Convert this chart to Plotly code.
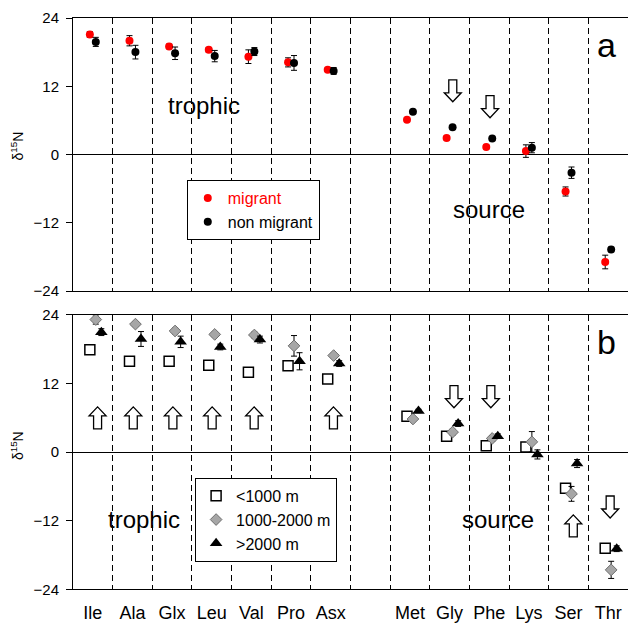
import plotly.graph_objects as go

FONT = "Liberation Sans, Arial, sans-serif"

# ---------------- data ----------------
categories = ["Ile", "Ala", "Glx", "Leu", "Val", "Pro", "Asx", "", "Met", "Gly", "Phe", "Lys", "Ser", "Thr"]
x_idx = list(range(len(categories)))

# panel a
migrant = [21.1, 20.0, 19.0, 18.4, 17.2, 16.2, 14.9, None, 6.1, 2.9, 1.3, 0.6, -6.5, -18.9]
migrant_err = [0.5, 0.9, 0.4, 0.4, 1.2, 0.8, 0.3, None, 0.3, 0.3, 0.3, 1.1, 0.8, 1.2]
non_migrant = [19.8, 18.0, 17.8, 17.3, 18.1, 16.1, 14.7, None, 7.5, 4.8, 2.8, 1.2, -3.2, -16.7]
non_migrant_err = [0.8, 1.2, 1.1, 1.0, 0.7, 1.3, 0.6, None, 0.3, 0.3, 0.3, 0.9, 1.0, 0.4]

# panel b
shallow = [17.9, 15.9, 15.9, 15.2, 14.0, 15.1, 12.8, None, 6.3, 2.8, 1.1, 0.9, -6.3, -16.8]
shallow_err = [0.3, 0.3, 0.3, 0.3, 0.3, 0.3, 0.3, None, 0.3, 0.3, 0.3, 0.3, 0.5, 0.3]
mid = [23.2, 22.4, 21.2, 20.6, 20.5, 18.6, 16.9, None, 5.8, 3.5, 2.4, 1.8, -7.3, -20.6]
mid_err = [0.8, 0.4, 0.5, 0.4, 0.5, 1.8, 0.4, None, 0.3, 0.5, 0.5, 1.8, 1.3, 1.5]
deep = [21.0, 19.8, 19.3, 18.4, 19.7, 15.9, 15.5, None, 7.2, 5.0, 2.8, -0.4, -2.0, -16.9]
deep_err = [0.6, 1.3, 1.0, 0.5, 0.6, 1.5, 0.5, None, 0.3, 0.5, 0.4, 0.8, 0.7, 0.5]

y_ticks = [-24, -12, 0, 12, 24]

# hollow arrows (category position, value, direction)
arrows_a_x = [9.08, 10.02]
arrows_a_y = [11.2, 8.4]
arrows_a_dir = ["down", "down"]
arrows_b_x = [0.12, 1.02, 2.02, 3.01, 4.07, 6.07, 12.12, 9.11, 10.04, 13.05]
arrows_b_y = [6.0, 6.0, 6.0, 6.0, 6.0, 6.0, -12.9, 9.7, 9.7, -9.6]
arrows_b_dir = ["up", "up", "up", "up", "up", "up", "up", "down", "down", "down"]

# ---------------- figure ----------------
fig = go.Figure()


def offs(d):
    return [i + d for i in x_idx]


def err(arr):
    return dict(type="data", array=[e if e is not None else 0 for e in arr],
                color="black", thickness=1, width=3, visible=True)


fig.add_trace(go.Scatter(
    x=offs(-0.075), y=migrant, error_y=err(migrant_err), mode="markers",
    name="<span style='color:#ff0000'>migrant</span>",
    marker=dict(color="#ff0000", size=8, symbol="circle"),
    xaxis="x", yaxis="y", legend="legend"))
fig.add_trace(go.Scatter(
    x=offs(0.075), y=non_migrant, error_y=err(non_migrant_err), mode="markers",
    name="non migrant",
    marker=dict(color="black", size=8, symbol="circle"),
    xaxis="x", yaxis="y", legend="legend"))

fig.add_trace(go.Scatter(
    x=offs(-0.075), y=shallow, error_y=err(shallow_err), mode="markers",
    name="<1000 m",
    marker=dict(color="white", size=10, symbol="square", line=dict(color="black", width=1.5)),
    xaxis="x2", yaxis="y2", legend="legend2"))
fig.add_trace(go.Scatter(
    x=offs(0.075), y=mid, error_y=err(mid_err), mode="markers",
    name="1000-2000 m",
    marker=dict(color="#a6a6a6", size=9, symbol="diamond", line=dict(color="#6e6e6e", width=1)),
    xaxis="x2", yaxis="y2", legend="legend2"))
fig.add_trace(go.Scatter(
    x=offs(0.215), y=deep, error_y=err(deep_err), mode="markers",
    name=">2000 m",
    marker=dict(color="black", size=11, symbol="triangle-up"),
    xaxis="x2", yaxis="y2", legend="legend2"))

UP = "M -4,-11 L 4,-11 L 4,2 L 8.5,2 L 0,11 L -8.5,2 L -4,2 Z"
DOWN = "M -4,11 L 4,11 L 4,-2 L 8.5,-2 L 0,-11 L -8.5,-2 L -4,-2 Z"


def add_arrows(xs, ys, ds, xr, yr):
    for xa, ya, d in zip(xs, ys, ds):
        fig.add_shape(type="path", xref=xr, yref=yr, xsizemode="pixel", ysizemode="pixel",
                      xanchor=xa, yanchor=ya, path=UP if d == "up" else DOWN,
                      line=dict(color="black", width=1.3), fillcolor="white", layer="above")


add_arrows(arrows_a_x, arrows_a_y, arrows_a_dir, "x", "y")
add_arrows(arrows_b_x, arrows_b_y, arrows_b_dir, "x2", "y2")

minor_cfg = dict(tickmode="array", tickvals=[i + 0.5 for i in range(13)], showgrid=True,
                 gridcolor="black", gridwidth=1, griddash="6px,4px", ticks="")

xcommon = dict(range=[-0.5, 13.5], domain=[0, 1], showline=True, linecolor="black", linewidth=1,
               mirror=True, showgrid=False, zeroline=False, ticks="", automargin=False,
               minor=minor_cfg)
ycommon = dict(range=[-24, 24], tickvals=y_ticks, showline=True, linecolor="black", linewidth=1,
               showgrid=False, zeroline=True, zerolinecolor="black", zerolinewidth=1,
               ticks="outside", ticklen=6, tickcolor="black", automargin=False,
               tickfont=dict(family=FONT, size=15, color="black"), ticklabelstandoff=4)

fig.update_layout(
    width=628, height=623,
    margin=dict(l=73, r=0, t=0, b=0),
    paper_bgcolor="white", plot_bgcolor="white",
    font=dict(family=FONT, color="black"),
    xaxis=dict(**xcommon, anchor="y", showticklabels=False),
    yaxis=dict(**ycommon, domain=[0.5329, 0.9711], anchor="x"),
    xaxis2=dict(**xcommon, anchor="y2", tickmode="array",
                tickvals=[i for i, c in enumerate(categories) if c],
                ticktext=[c for c in categories if c],
                tickfont=dict(family=FONT, size=18, color="black"), ticklabelstandoff=7),
    yaxis2=dict(**ycommon, domain=[0.0541, 0.4944], anchor="x2"),
    legend=dict(x=0.205, y=0.711, xanchor="left", yanchor="top", bgcolor="white",
                bordercolor="black", borderwidth=1, font=dict(family=FONT, size=16),
                itemwidth=30, tracegroupgap=0),
    legend2=dict(x=0.22, y=0.233, xanchor="left", yanchor="top", bgcolor="white",
                 bordercolor="black", borderwidth=1, font=dict(family=FONT, size=16),
                 itemwidth=30, tracegroupgap=0),
    showlegend=True,
)

texts = [
    ("trophic", 2.80, 8.6, "x", "y", 24),
    ("source", 9.99, -9.7, "x", "y", 24),
    ("a", 12.95, 19.2, "x", "y", 34),
    ("trophic", 1.29, -11.8, "x2", "y2", 24),
    ("source", 10.21, -11.8, "x2", "y2", 24),
    ("b", 12.95, 19.3, "x2", "y2", 34),
]
for t, xa, ya, xr, yr, sz in texts:
    fig.add_annotation(text=t, x=xa, y=ya, xref=xr, yref=yr, showarrow=False,
                       xanchor="center", yanchor="middle",
                       font=dict(family=FONT, size=sz, color="black"))

for yr, ys in (("y domain", 9), ("y2 domain", 7)):
    fig.add_annotation(text="δ<sup>15</sup>N", x=-0.101, y=0.5, xref="paper", yref=yr,
                       yshift=ys, showarrow=False, textangle=-90, xanchor="center",
                       yanchor="middle", font=dict(family=FONT, size=14, color="black"))

fig.write_html("out.html", config={"displayModeBar": False},
               post_script="document.body.style.margin='0px';document.body.style.overflow='hidden';")
